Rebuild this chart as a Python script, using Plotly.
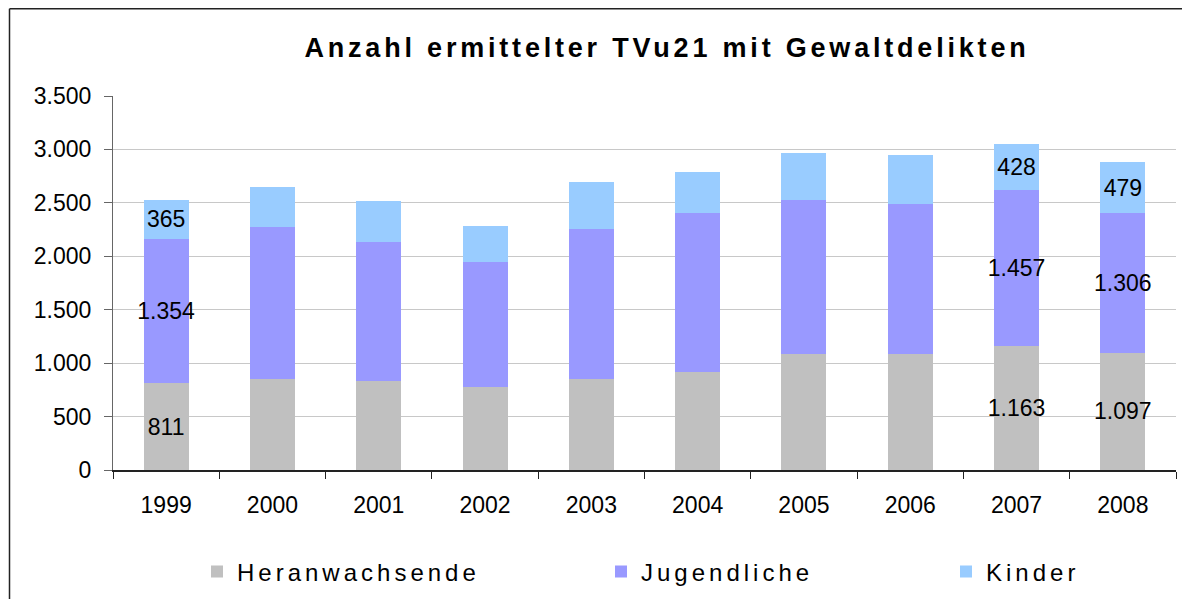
import plotly.graph_objects as go

# ---- data ----
years = ["1999", "2000", "2001", "2002", "2003", "2004", "2005", "2006", "2007", "2008"]
heranwachsende = [811, 851, 833, 777, 852, 917, 1086, 1086, 1163, 1097]
jugendliche = [1354, 1423, 1301, 1169, 1403, 1488, 1441, 1403, 1457, 1306]
kinder = [365, 374, 383, 337, 440, 384, 439, 459, 428, 479]
labeled_years = ["1999", "2007", "2008"]
series_names = ["Heranwachsende", "Jugendliche", "Kinder"]
y_ticks = [0, 500, 1000, 1500, 2000, 2500, 3000, 3500]

colors = ["#C0C0C0", "#9999FF", "#99CCFF"]
FONT = "Liberation Sans, Arial, sans-serif"


def de_fmt(v):
    return f"{v:,}".replace(",", ".")


def labels(values):
    return [de_fmt(v) if y in labeled_years else "" for y, v in zip(years, values)]


def spaced(s, px):
    return f'<span style="letter-spacing:{px}px">{s}</span>'


fig = go.Figure()
legend_ids = ["legend", "legend2", "legend3"]
for name, vals, col, lg in zip(series_names, [heranwachsende, jugendliche, kinder], colors, legend_ids):
    fig.add_trace(go.Bar(
        x=years, y=vals, name=spaced(name, 4), marker=dict(color=col, line=dict(width=0)),
        text=labels(vals), textposition="inside", insidetextanchor="middle",
        constraintext="none", textangle=0,
        textfont=dict(family=FONT, size=23, color="#000000"),
        legend=lg, hoverinfo="x+y+name",
    ))

# page has an 8px body margin: figure origin sits at (8, 8) of the window
OFF = 8
W, H = 1190 - OFF, 599 - OFF
L, T = 113 - OFF, 96 - OFF
R = W - (1176 - OFF)
B = H - (470 - OFF)
pw = W - L - R
ph = H - T - B


def px_x(page_px):
    return (page_px - OFF - L) / pw


def px_y(page_py):
    return (H - B - (page_py - OFF)) / ph


legend_common = dict(orientation="h", xanchor="left", yanchor="middle",
                     font=dict(family=FONT, size=24, color="#000000"),
                     bgcolor="rgba(0,0,0,0)", borderwidth=0)

fig.update_layout(
    width=W, height=H,
    margin=dict(l=L, r=R, t=T, b=B, autoexpand=False),
    paper_bgcolor="white", plot_bgcolor="white",
    barmode="stack", bargap=0.576,
    separators=",.",
    title=dict(text=f"<b>{spaced('Anzahl ermittelter TVu21 mit Gewaltdelikten', 3.8)}</b>",
               x=(667 - OFF) / W, xref="container", xanchor="center",
               y=1 - (48 - OFF) / H, yref="container", yanchor="middle",
               font=dict(family=FONT, size=27, color="#000000")),
    legend=dict(x=px_x(197), y=px_y(572), **legend_common),
    legend2=dict(x=px_x(601), y=px_y(572), **legend_common),
    legend3=dict(x=px_x(946), y=px_y(572), **legend_common),
    xaxis=dict(
        type="category", showgrid=False, showline=True, linecolor="#222222", linewidth=1.5,
        ticks="outside", tickson="boundaries", ticklen=7, tickcolor="#222222", tickwidth=1,
        tickfont=dict(family=FONT, size=23, color="#000000"), ticklabelstandoff=14,
        automargin=False,
    ),
    yaxis=dict(
        range=[0, 3500], tickvals=y_ticks, tickformat=",d",
        showgrid=True, gridcolor="#C8C8C8", gridwidth=1.2,
        showline=True, linecolor="#666666", linewidth=1.2,
        ticks="outside", ticklen=8, tickcolor="#666666", tickwidth=1,
        tickfont=dict(family=FONT, size=23, color="#000000"), ticklabelstandoff=8,
        zeroline=False, automargin=False,
    ),
    showlegend=True,
    shapes=[
        dict(type="line", xref="paper", yref="paper", x0=px_x(9.5), x1=px_x(9.5),
             y0=px_y(610), y1=px_y(8.8), line=dict(color="#222222", width=1.5)),
        dict(type="line", xref="paper", yref="paper", x0=px_x(9.5), x1=px_x(1200),
             y0=px_y(8.8), y1=px_y(8.8), line=dict(color="#222222", width=1.5)),
    ],
)

fig.write_html("out.html")
